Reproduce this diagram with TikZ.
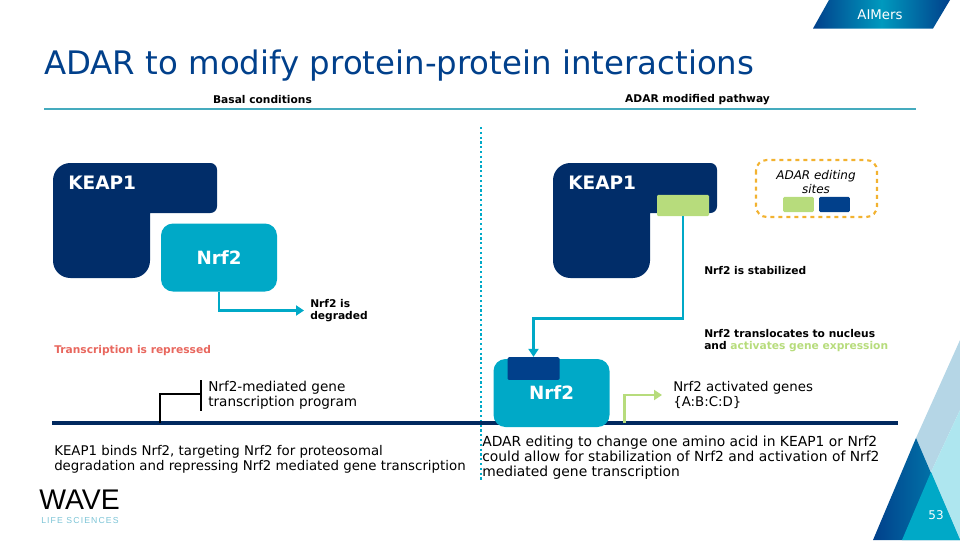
\documentclass[tikz,border=0pt]{standalone}
\usepackage{fontspec}
\setmainfont{DejaVu Sans}
\newfontfamily\logofont{Liberation Sans}
\usetikzlibrary{arrows.meta,positioning}
\definecolor{navy}{HTML}{012D69}
\definecolor{teal}{HTML}{00A9C7}
\definecolor{sitegreen}{HTML}{B7DC7C}
\definecolor{siteblue}{HTML}{01408B}
\definecolor{amber}{HTML}{F2B230}
\definecolor{salmon}{HTML}{E8675E}
\definecolor{paleblue}{HTML}{B5D6E6}
\definecolor{palecyan}{HTML}{AEE6EF}
\definecolor{logoblue}{HTML}{7CC4D6}
\definecolor{rulecolor}{HTML}{45ABBE}

\begin{document}
\begin{tikzpicture}[
    x=0.75pt,y=-0.75pt,
    protein/.style={fill=teal,rounded corners=9pt,minimum width=87pt,minimum height=51pt,
                    inner sep=0pt,text=white,font=\fontsize{13.7}{16}\selectfont\bfseries},
    keaplabel/.style={anchor=west,inner sep=0pt,text=white,font=\fontsize{13.9}{16}\selectfont\bfseries},
    sitebox/.style={rounded corners=1pt,inner sep=0pt,minimum width=39pt,minimum height=16pt},
    keybox/.style={rounded corners=1pt,inner sep=0pt,minimum width=23pt,minimum height=11.5pt},
    note/.style={anchor=west,inner sep=0pt,align=left,font=\fontsize{8}{9.6}\selectfont\bfseries},
    body/.style={anchor=west,inner sep=0pt,align=left,font=\fontsize{10.4}{11.2}\selectfont},
    heading/.style={inner sep=0pt,font=\fontsize{8}{10}\selectfont\bfseries},
    flow/.style={draw=teal,line width=2pt,-{Triangle[length=6pt,width=7.5pt]}},
]
\useasboundingbox (0,0) rectangle (960,540);

% ---- y positions ----------------------------------------------------------
\def\yRule{109}
\def\yDna{423}
\def\yGene{394}

% ---- Banner and title -----------------------------------------------------
\shade[left color=siteblue,right color=siteblue,middle color=teal!85!siteblue]
    (829,0) -- (950,0) -- (933,28.5) -- (813,28.5) -- cycle;
\node[inner sep=0pt,text=white,font=\fontsize{10}{12}\selectfont] (tag) at (880,15) {AIMers};
\node[anchor=west,inner sep=0pt,text=siteblue,font=\fontsize{24.3}{30}\selectfont] (title) at (44,65.5)
    {ADAR to modify protein-protein interactions};
\node[heading] (headA) at (262.5,99.5) {Basal conditions};
\node[heading] (headB) at (697.5,99.5) {ADAR modified pathway};
\draw[rulecolor,line width=1pt] (44,\yRule) -- (916,\yRule);
\draw[teal,line width=1.6pt,dotted] (481,127) -- (481,482);

% ---- Corner triangles -----------------------------------------------------
\fill[paleblue] (960,340) -- (916,438) -- (931,472) -- (960,410) -- cycle;
\fill[palecyan] (960,410) -- (931,472) -- (960,540) -- cycle;
\shade[left color=siteblue,right color=teal!70!siteblue] (916,438) -- (873,540) -- (960,540) -- cycle;
\fill[teal] (931,472) -- (902,540) -- (960,540) -- cycle;
\node[inner sep=0pt,text=white,font=\fontsize{9}{10}\selectfont] (page) at (936,515) {53};

% ---- KEAP1 shapes ---------------------------------------------------------
\foreach \x in {53,553}
{
    \fill[navy] (\x,220) [rounded corners=13pt] -- (\x,163) [rounded corners=5pt] -- (\x+164,163)
        -- (\x+164,213) [sharp corners] -- (\x+97,213) [rounded corners=13pt] -- (\x+97,278)
        -- (\x,278) [sharp corners] -- cycle;
}
\node[keaplabel] (keapA) at (68,183) {KEAP1};
\node[keaplabel] (keapB) at (568,183) {KEAP1};

% ---- DNA strand -----------------------------------------------------------
\draw[navy!90!black,line width=3pt] (52,\yDna) -- (898,\yDna);

% ---- Basal side -----------------------------------------------------------
\node[protein] (nrfA) at (219,257.5) {Nrf2};
\node[note,font=\fontsize{8}{8.7}\selectfont\bfseries] (degraded) at (310,310.5) {Nrf2 is\\degraded};
\draw[flow,shorten >=4.5pt] (nrfA.south) |- (degraded.west);
\node[note,text=salmon] (repressed) at (54,350.5) {Transcription is repressed};

\coordinate (tssA) at (160,\yDna);
\coordinate (barTop) at (201,380);
\coordinate (barBot) at (201,411);
\coordinate (barMid) at (201,\yGene);
\draw[black,line width=1.9pt] (tssA) |- (barMid);
\draw[black,line width=1.9pt] (barTop) -- (barBot);
\node[body,font=\fontsize{10.2}{11.2}\selectfont] (program) at (208,395) {Nrf2-mediated gene\\transcription program};
\node[body,font=\fontsize{10}{11.2}\selectfont] (basalText) at (54,459) {KEAP1 binds Nrf2, targeting Nrf2 for proteosomal\\
    degradation and repressing Nrf2 mediated gene transcription};

% ---- ADAR side ------------------------------------------------------------
\node[protein] (nrfB) at (551.5,393) {Nrf2};
\node[sitebox,fill=sitegreen] (siteK) at (683,205.5) {};
\node[sitebox,fill=siteblue,minimum height=17pt] (siteN) at (533.5,368.5) {};
\draw[flow] (siteK.south) -- ++(0,102) -| (siteN.north);

\node[note] (stabilized) at (704,270.5) {Nrf2 is stabilized};
\node[note] (translocates) at (704,340.5) {Nrf2 translocates to nucleus\\
    and \textcolor{sitegreen}{activates gene expression}};

\coordinate (tssB) at (624.5,\yDna);
\node[body,font=\fontsize{10}{11.2}\selectfont] (genes) at (673,395) {Nrf2 activated genes\\\{A:B:C:D\}};
\draw[draw=sitegreen,line width=2pt,shorten >=8.25pt,-{Triangle[length=6pt,width=7.5pt]}] (tssB) |- (genes.west);
\node[body] (adarText) at (482,457.5) {ADAR editing to change one amino acid in KEAP1 or Nrf2\\
    could allow for stabilization of Nrf2 and activation of Nrf2\\mediated gene transcription};

% ---- Key ------------------------------------------------------------------
\draw[amber,line width=1.6pt,dashed,rounded corners=8pt] (756,160) rectangle (877,217);
\node[inner sep=0pt,align=center,font=\fontsize{9}{10.8}\selectfont\itshape] (keyText) at (816,182) {ADAR editing\\sites};
\node[keybox,fill=sitegreen] (keyGreen) at (798.5,204.5) {};
\node[keybox,fill=siteblue] (keyBlue) at (834.5,204.5) {};

% ---- Logo -----------------------------------------------------------------
\node[anchor=west,inner sep=0pt,font=\logofont\fontsize{21.3}{22}\selectfont] (logo) at (39,500) {WAVE};
\node[anchor=west,inner sep=0pt,text=logoblue,font=\logofont\fontsize{6.5}{7}\selectfont] (logoSub) at (41,521)
    {\addfontfeature{LetterSpace=13}LIFE SCIENCES};
\end{tikzpicture}
\end{document}
